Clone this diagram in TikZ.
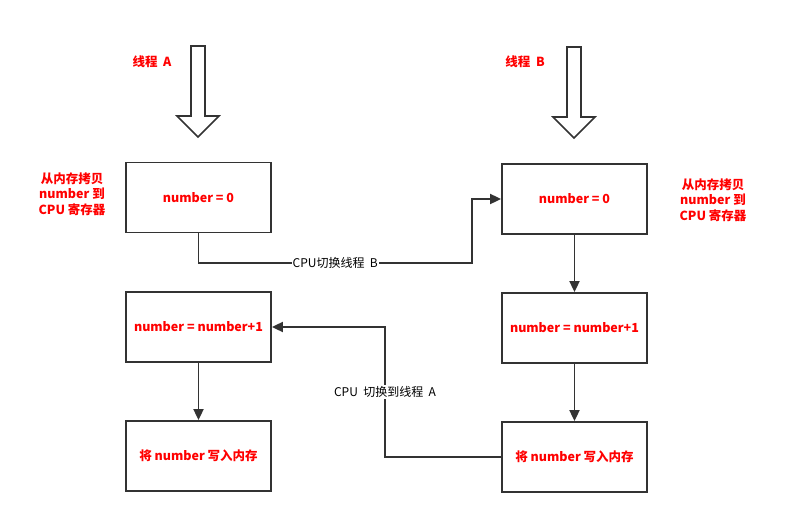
\documentclass[tikz,border=0pt]{standalone}
\usepackage{fontspec}
\setmainfont{Noto Sans CJK SC}
\usetikzlibrary{arrows.meta}

\begin{document}
\begin{tikzpicture}[x=1pt,y=-1pt,
  box/.style={draw=black!80, line width=1.8pt, minimum width=145pt, minimum height=70pt, inner sep=0pt, text=red, font=\fontsize{12.5}{15}\selectfont\bfseries},
  note/.style={text=red, align=center, font=\fontsize{12.5}{15.5}\selectfont\bfseries},
  link/.style={draw=black!80, line width=1.8pt, -{Triangle[length=11pt,width=10pt]}},
  tag/.style={fill=white, text=black, inner sep=1pt, font=\fontsize{12}{14}\selectfont},
  thread/.style={draw=black!80, line width=1.6pt, fill=white}]
  \useasboundingbox (0,0) rectangle (795,519);
  \node[box] (a1) at (198.5,197.5) {number = 0};
  \node[box] (a2) at (198.5,327) {number = number+1};
  \node[box] (a3) at (198.5,456) {将 number 写入内存};
  \node[box] (b1) at (574.5,199) {number = 0};
  \node[box] (b2) at (574.5,328) {number = number+1};
  \node[box] (b3) at (574.5,457) {将 number 写入内存};
  \draw[thread] (191,46) -- (205,46) -- (205,116) -- (219,116) -- (198,137) -- (177,116) -- (191,116) -- cycle;
  \draw[thread] (567,47) -- (581,47) -- (581,117) -- (595,117) -- (574,138) -- (553,117) -- (567,117) -- cycle;
  \node[note] (ta) at (152,62) {线程\ \ A};
  \node[note] (tb) at (525,62) {线程\ \ B};
  \node[note] (na) at (72,194) {从内存拷贝\\number 到\\CPU 寄存器};
  \node[note] (nb) at (713,200) {从内存拷贝\\number 到\\CPU 寄存器};
  \coordinate (ab) at (472,263);
  \coordinate (ba) at (385,327);
  \draw[link] (a1.south) |- (ab) node[tag, pos=0.75] {CPU切换线程\ \ B} |- (b1.west);
  \draw[link] (b3.west) -| (ba) node[tag, pos=0.75] {CPU\ \ 切换到线程\ \ A} -- (a2.east);
  \draw[link] (b1) -- (b2);
  \draw[link] (b2) -- (b3);
  \draw[link] (a2) -- (a3);
\end{tikzpicture}
\end{document}
